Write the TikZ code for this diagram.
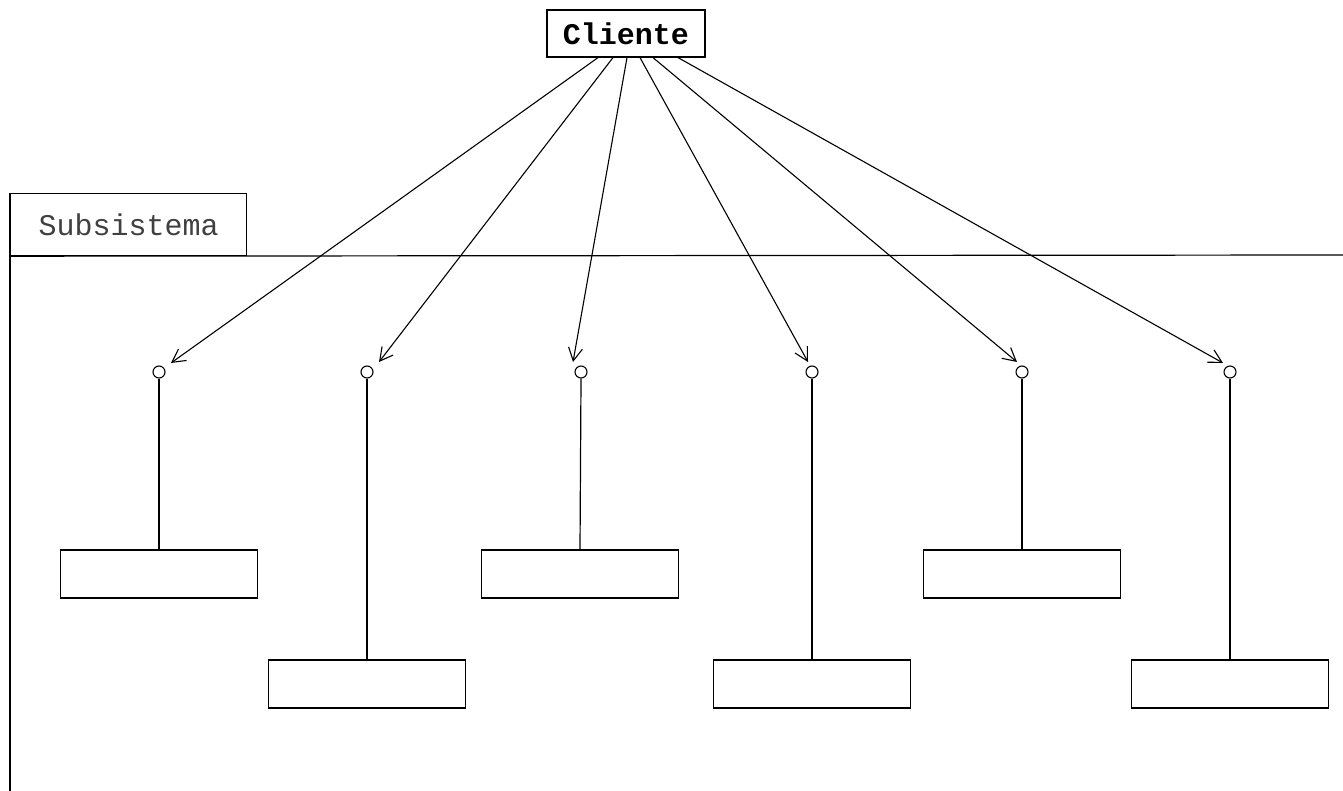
\documentclass[tikz,border=0pt]{standalone}
\usepackage{fontspec}
\newfontfamily\monofont{Liberation Mono}
\usetikzlibrary{arrows.meta}
\begin{document}
\begin{tikzpicture}[x=1pt,y=-1pt,
  frame/.style={line width=1.2pt},
  clientbox/.style={draw, line width=1.2pt, minimum width=158pt, minimum height=47pt, inner sep=0pt,
    font=\monofont\bfseries\fontsize{30}{32}\selectfont},
  tabbox/.style={draw, line width=1.2pt, minimum width=236pt, minimum height=62pt, inner sep=0pt,
    anchor=north west, font=\monofont\fontsize{30}{32}\selectfont, text=black!75},
  part/.style={draw, line width=1.3pt, minimum width=197pt, minimum height=48pt, inner sep=0pt},
  iface/.style={draw, circle, line width=1.1pt, minimum size=12pt, inner sep=0pt},
  link/.style={line width=1.2pt},
  use/.style={line width=1.1pt, -{Straight Barb[length=13pt,width=14pt,line width=1.1pt]}}
]
\useasboundingbox (0,0) rectangle (1343,791);

% client
\node[clientbox] (cliente) at (626,33.5) {Cliente};

% subsystem package: tab plus body outline
\node[tabbox] (tab) at (10,193) {Subsistema};
\draw[frame] (tab.south west) -- (1343,255);
\draw[frame] (tab.north west) -- (10,791);

% provided interfaces
\node[iface] (i1) at (159,372) {};
\node[iface] (i2) at (367,372) {};
\node[iface] (i3) at (581,372) {};
\node[iface] (i4) at (812,372) {};
\node[iface] (i5) at (1022,372) {};
\node[iface] (i6) at (1230,372) {};

% components
\node[part] (b1) at (159,574) {};
\node[part] (b2) at (367,684) {};
\node[part] (b3) at (580,574) {};
\node[part] (b4) at (812,684) {};
\node[part] (b5) at (1022,574) {};
\node[part] (b6) at (1230,684) {};

\foreach \k in {1,...,6}
  \draw[link] (i\k.south) -- (b\k.north);

% arrow tips, just short of each interface
\coordinate (t1) at ([shift={(12,-9)}]i1);
\coordinate (t2) at ([shift={(12,-10)}]i2);
\coordinate (t3) at ([shift={(-8,-10)}]i3);
\coordinate (t4) at ([shift={(-4,-10)}]i4);
\coordinate (t5) at ([shift={(-5,-10)}]i5);
\coordinate (t6) at ([shift={(-7,-9)}]i6);

% dependencies from the client
\draw[use] ([xshift=-28pt]cliente.south) -- (t1);
\draw[use] ([xshift=-13pt]cliente.south) -- (t2);
\draw[use] ([xshift=1pt]cliente.south) -- (t3);
\draw[use] ([xshift=14pt]cliente.south) -- (t4);
\draw[use] ([xshift=27pt]cliente.south) -- (t5);
\draw[use] ([xshift=52pt]cliente.south) -- (t6);
\end{tikzpicture}
\end{document}
